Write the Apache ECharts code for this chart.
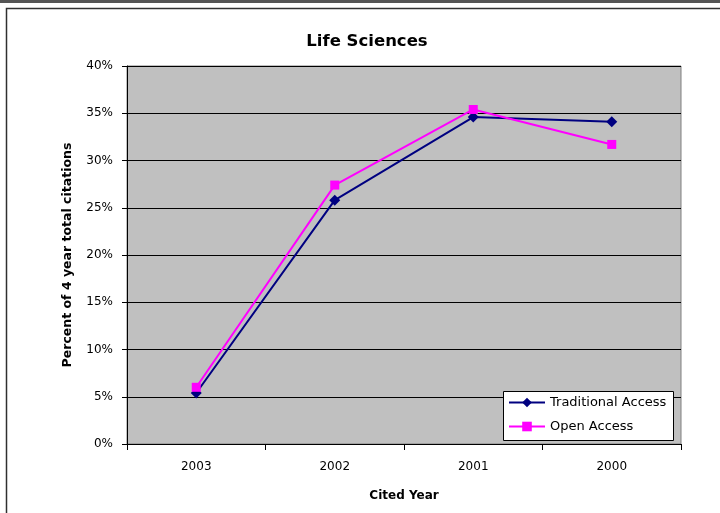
<!DOCTYPE html>
<html>
<head>
<meta charset="utf-8">
<script src="https://cdn.jsdelivr.net/npm/echarts@6/dist/echarts.min.js"></script>
<style>
  html, body { margin: 0; padding: 0; background: #fff; }
  #chart { width: 720px; height: 513px; }
</style>
</head>
<body>
<div id="chart"></div>
<script>
// Share of 4-year citations by cited year
const citedYears = ['2003', '2002', '2001', '2000'];
const traditionalAccess = [5.4, 25.8, 34.6, 34.1];
const openAccess = [6.0, 27.4, 35.4, 31.7];
const yTicks = [0, 5, 10, 15, 20, 25, 30, 35, 40];

const chart = echarts.init(document.getElementById('chart'), null, { renderer: 'canvas' });
const font = 'DejaVu Sans, Liberation Sans, sans-serif';

chart.setOption({
  animation: false,
  backgroundColor: '#ffffff',
  graphic: [
    // page frame
    { type: 'rect', shape: { x: 0, y: 0, width: 720, height: 3 }, style: { fill: '#555555' }, silent: true },
    { type: 'rect', shape: { x: 6.5, y: 8.5, width: 740, height: 540 }, style: { fill: 'none', stroke: '#303030', lineWidth: 1.5 }, silent: true },
    // plot area fill
    { type: 'rect', shape: { x: 127, y: 66, width: 554, height: 378 }, style: { fill: '#c0c0c0', stroke: '#808080', lineWidth: 1 }, silent: true, z: -1 },
    // legend box
    { type: 'rect', shape: { x: 503.5, y: 391.5, width: 170, height: 49 }, style: { fill: '#ffffff', stroke: '#000000', lineWidth: 1 }, silent: true, z: 5 }
  ],
  title: {
    text: 'Life Sciences',
    left: 362, top: 28, textAlign: 'center',
    textStyle: { fontFamily: font, fontSize: 16.5, fontWeight: 'bold', color: '#000' }
  },
  grid: { left: 127, right: 39, top: 66, bottom: 69, containLabel: false },
  legend: {
    orient: 'vertical',
    left: 504, top: 396,
    padding: [0, 0, 0, 4],
    itemGap: 11,
    itemWidth: 36,
    itemHeight: 12,
    z: 6,
    textStyle: { fontFamily: font, fontSize: 13, color: '#000' },
    data: ['Traditional Access', 'Open Access']
  },
  xAxis: {
    type: 'category',
    data: citedYears,
    boundaryGap: true,
    name: 'Cited Year',
    nameLocation: 'middle',
    nameGap: 46,
    nameTextStyle: { fontFamily: font, fontSize: 12, fontWeight: 'bold', color: '#000' },
    axisLine: { lineStyle: { color: '#000', width: 1 } },
    axisTick: { show: true, length: 6, lineStyle: { color: '#000' } },
    axisLabel: { fontFamily: font, fontSize: 12, color: '#000', margin: 17 }
  },
  yAxis: {
    type: 'value',
    min: 0, max: 40, interval: 5,
    name: 'Percent of 4 year total citations',
    nameLocation: 'middle',
    nameGap: 53,
    nameTextStyle: { fontFamily: font, fontSize: 12.5, fontWeight: 'bold', color: '#000' },
    axisLine: { show: true, lineStyle: { color: '#000', width: 1 } },
    axisTick: { show: true, length: 5, lineStyle: { color: '#000' } },
    axisLabel: {
      fontFamily: font, fontSize: 12, color: '#000', margin: 14,
      formatter: v => yTicks.includes(v) ? v + '%' : ''
    },
    splitLine: { show: true, lineStyle: { color: '#000', width: 1 } }
  },
  series: [
    {
      name: 'Traditional Access',
      type: 'line',
      data: traditionalAccess,
      symbol: 'diamond',
      symbolSize: 11,
      color: '#000080',
      lineStyle: { width: 2, color: '#000080' },
      itemStyle: { color: '#000080' },
      z: 3
    },
    {
      name: 'Open Access',
      type: 'line',
      data: openAccess,
      symbol: 'rect',
      symbolSize: 9,
      color: '#ff00ff',
      lineStyle: { width: 2, color: '#ff00ff' },
      itemStyle: { color: '#ff00ff' },
      z: 4
    }
  ]
});
</script>
</body>
</html>
